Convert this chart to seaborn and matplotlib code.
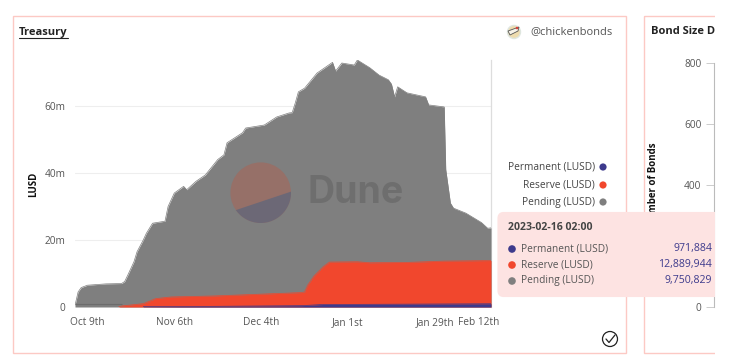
import numpy as np
import pandas as pd
import matplotlib.pyplot as plt
import matplotlib.dates as mdates
from matplotlib.patches import Circle, FancyBboxPatch, Polygon, Rectangle
import seaborn as sns

# ===== 数据 =====
total_dates = ["2022-10-05", "2022-10-06", "2022-10-07", "2022-10-09", "2022-10-15", "2022-10-20",
               "2022-10-21", "2022-10-22", "2022-10-24", "2022-10-25", "2022-10-27", "2022-10-28",
               "2022-10-30", "2022-11-03", "2022-11-04", "2022-11-06", "2022-11-09", "2022-11-10",
               "2022-11-13", "2022-11-16", "2022-11-20", "2022-11-22", "2022-11-23", "2022-11-28",
               "2022-11-29", "2022-12-05", "2022-12-09", "2022-12-13", "2022-12-14", "2022-12-15",
               "2022-12-16", "2022-12-18", "2022-12-22", "2022-12-27", "2022-12-28", "2022-12-30",
               "2023-01-03", "2023-01-04", "2023-01-08", "2023-01-11", "2023-01-14", "2023-01-15",
               "2023-01-16", "2023-01-17", "2023-01-20", "2023-01-26", "2023-01-27", "2023-02-01",
               "2023-02-01 12:00", "2023-02-03", "2023-02-04", "2023-02-08", "2023-02-13",
               "2023-02-15", "2023-02-16 02:00"]
total_m = [0.5, 4.5, 5.8, 6.5, 6.9, 7.0,
           7.6, 9.5, 13.5, 16.5, 20.0, 22.0,
           25.0, 25.6, 30.0, 34.0, 36.0, 35.0,
           37.5, 39.4, 44.0, 45.4, 49.0, 52.0,
           53.4, 54.3, 56.7, 57.9, 58.0, 60.9,
           64.2, 65.3, 69.8, 73.0, 70.4, 72.8,
           72.2, 73.7, 71.4, 69.2, 67.8, 66.5,
           62.7, 65.7, 63.9, 62.7, 60.3, 59.7,
           41.0, 31.0, 29.5, 28.0, 25.2,
           23.5, 23.61]

reserve_dates = ["2022-10-19", "2022-10-20", "2022-10-27", "2022-10-31", "2022-11-05", "2022-11-19",
                 "2022-12-03", "2022-12-17", "2022-12-18", "2022-12-19", "2022-12-21", "2022-12-24",
                 "2022-12-26", "2023-01-04", "2023-01-08", "2023-01-20", "2023-02-01", "2023-02-16 02:00"]
reserve_top_m = [0.0, 0.3, 1.0, 2.5, 3.0, 3.3,
                 3.8, 4.3, 4.5, 6.5, 9.2, 12.0,
                 13.4, 13.5, 13.2, 13.3, 13.7, 13.86]

permanent_dates = ["2022-10-27", "2022-11-19", "2022-12-17", "2022-12-24", "2023-01-20", "2023-02-16 02:00"]
permanent_m = [0.1, 0.2, 0.4, 0.75, 0.85, 0.97]

x_tick_dates = ["2022-10-09", "2022-11-06", "2022-12-04", "2023-01-01", "2023-01-29", "2023-02-12"]
x_tick_labels = ["Oct 9th", "Nov 6th", "Dec 4th", "Jan 1st", "Jan 29th", "Feb 12th"]
y_ticks_m = [0, 20, 40, 60]
bond_ticks = [0, 200, 400, 600, 800]

legend_names = ["Permanent (LUSD)", "Reserve (LUSD)", "Pending (LUSD)"]
tooltip_values = ["971,884", "12,889,944", "9,750,829"]
tooltip_time = "2023-02-16 02:00"

PURPLE = "#3d3a8c"
RED = "#f1472d"
GRAY = "#7f7f7f"
colors = [PURPLE, RED, GRAY]
PINK = "#fcc9c4"
TEXT = "#555555"

sns.set_theme(style="white")
plt.rcParams["font.family"] = ["Open Sans", "DejaVu Sans"]

W, H = 733, 360
fig = plt.figure(figsize=(W / 100, H / 100), dpi=100)


def px_axes(left, top, right, bottom, **kw):
    return fig.add_axes([left / W, 1 - bottom / H, (right - left) / W, (bottom - top) / H], **kw)


# ===== 主图 =====
ax = px_axes(75, 60, 491, 307)
bands = [
    ("Pending", total_dates, total_m, GRAY),
    ("Reserve", reserve_dates, reserve_top_m, RED),
    ("Permanent", permanent_dates, permanent_m, PURPLE),
]
for name, dates, vals, color in bands:
    d = pd.DataFrame({"date": pd.to_datetime(dates, format="mixed"), "value": vals})
    sns.lineplot(data=d, x="date", y="value", color=color, lw=0.5, ax=ax, zorder=3)
    ax.fill_between(d["date"], 0, d["value"], color=color, lw=0, zorder=3)

# 左下角灰色区里更深的细条
ax.hlines(0.9, pd.Timestamp("2022-10-05"), pd.Timestamp("2022-10-20"), color="#6c6c6c", lw=0.8, zorder=4)

ax.set_xlim(pd.Timestamp("2022-10-05"), pd.Timestamp("2023-02-16 02:00"))
ax.set_ylim(0, 73.7)
ax.set_xticks(mdates.date2num(pd.to_datetime(x_tick_dates)))
ax.set_xticklabels(x_tick_labels, fontsize=7.3, color=TEXT)
ax.set_yticks(y_ticks_m)
ax.set_yticklabels(["0", "20m", "40m", "60m"], fontsize=7.3, color=TEXT)
ax.tick_params(axis="both", length=0, pad=7)
ax.set_xlabel("")
ax.set_ylabel("")
ax.grid(axis="y", color="#eeeeee", lw=0.8)
ax.set_axisbelow(True)
for s in ["top", "left", "bottom"]:
    ax.spines[s].set_visible(False)
ax.spines["right"].set_color("#dddddd")
ax.spines["right"].set_linewidth(0.9)
ax.patch.set_alpha(0)

# ===== 右侧被截断的图 =====
ax2 = px_axes(714, 63, 715, 307)
sns.barplot(x=[0], y=[640], color="#f7c4bd", width=1, ax=ax2)
ax2.set_xlim(-0.5, 0.5)
ax2.set_ylim(0, 800)
ax2.set_yticks(bond_ticks)
ax2.set_yticklabels([str(t) for t in bond_ticks], fontsize=7.3, color=TEXT)
ax2.set_xticks([])
ax2.set_xlabel("")
ax2.tick_params(axis="y", length=6, width=0.7, color="#cccccc", pad=3, left=True)
ax2.set_ylabel("Number of Bonds", fontsize=7, fontweight="bold", color="#111111", labelpad=18)
for s in ["top", "right", "bottom"]:
    ax2.spines[s].set_visible(False)
ax2.spines["left"].set_color("#bbbbbb")
ax2.spines["left"].set_linewidth(0.8)

# ===== 像素坐标叠加层 =====
ov = px_axes(0, 0, 715, H, zorder=10)
ov.set_xlim(0, 715)
ov.set_ylim(H, 0)
ov.axis("off")

# 面板边框
ov.add_patch(Rectangle((12.5, 15.5), 613, 337.5, fill=False, ec=PINK, lw=1))
ov.add_patch(Rectangle((643.5, 15.5), 100, 337.5, fill=False, ec=PINK, lw=1))

ov.text(19, 32, "Treasury", fontsize=8, fontweight="bold", color="#222222", va="center")
ov.plot([19, 68], [37.7, 37.7], color="#222222", lw=0.8)
ov.text(651, 32, "Bond Size Distribution", fontsize=8, fontweight="bold", color="#222222", va="center", clip_on=True)
ov.text(34, 184, "LUSD", fontsize=7, fontweight="bold", color="#111111", rotation=90, ha="center", va="center")

# @chickenbonds 头像
ov.add_patch(Circle((514, 32), 6.5, fc="#eedcae", ec="#dfe6df", lw=1))
ov.add_patch(Polygon([[508, 31], [519, 27], [518, 31], [510, 35]], fc="#f7f3e8", ec="#555555", lw=0.6))
ov.add_patch(Circle((517, 28), 1.3, fc="#d8433a", lw=0))
ov.text(530, 32, "@chickenbonds", fontsize=8, color=TEXT, va="center")

# Dune 水印
ov.add_patch(Circle((260.7, 192.7), 30.3, fc="#967068", lw=0))
t = np.radians(np.linspace(-2, 145, 40))
ov.add_patch(Polygon(np.c_[260.7 + 30.3 * np.cos(t), 192.7 + 30.3 * np.sin(t)], fc="#6c6876", lw=0))
ov.text(355.5, 193, "Dune", fontsize=27, fontweight="bold", color="#6e6e6e", family="Inter", ha="center", va="center")

# 图例
for y, name, c in zip([167, 185, 202], legend_names, colors):
    ov.text(595, y, name, fontsize=7.3, color="#444444", ha="right", va="center")
    ov.add_patch(Circle((603, y), 3.6, fc=c, lw=0))

# 提示框
ov.add_patch(FancyBboxPatch((503, 217.5), 240, 74, boxstyle="round,pad=0,rounding_size=0", fc="#fde3e2", ec="#fde3e2", lw=8, joinstyle="round"))
ov.text(508, 228, tooltip_time, fontsize=7.6, fontweight="bold", color="#444444", va="center")
for y, name, val, c in zip([249, 265, 281], legend_names, tooltip_values, colors):
    ov.add_patch(Circle((512, y), 3.8, fc=c, lw=0))
    ov.text(521, y, name, fontsize=7.3, color="#555555", va="center")
    ov.text(712, y, val, fontsize=7.6, color=PURPLE, ha="right", va="center")

# 右下角对勾
ov.add_patch(Circle((610, 339), 7.5, fill=False, ec="#222222", lw=0.9))
ov.plot([606, 609, 615], [339, 342.5, 335], color="#222222", lw=0.9)

fig.savefig("out.png", dpi=100, facecolor="white")
